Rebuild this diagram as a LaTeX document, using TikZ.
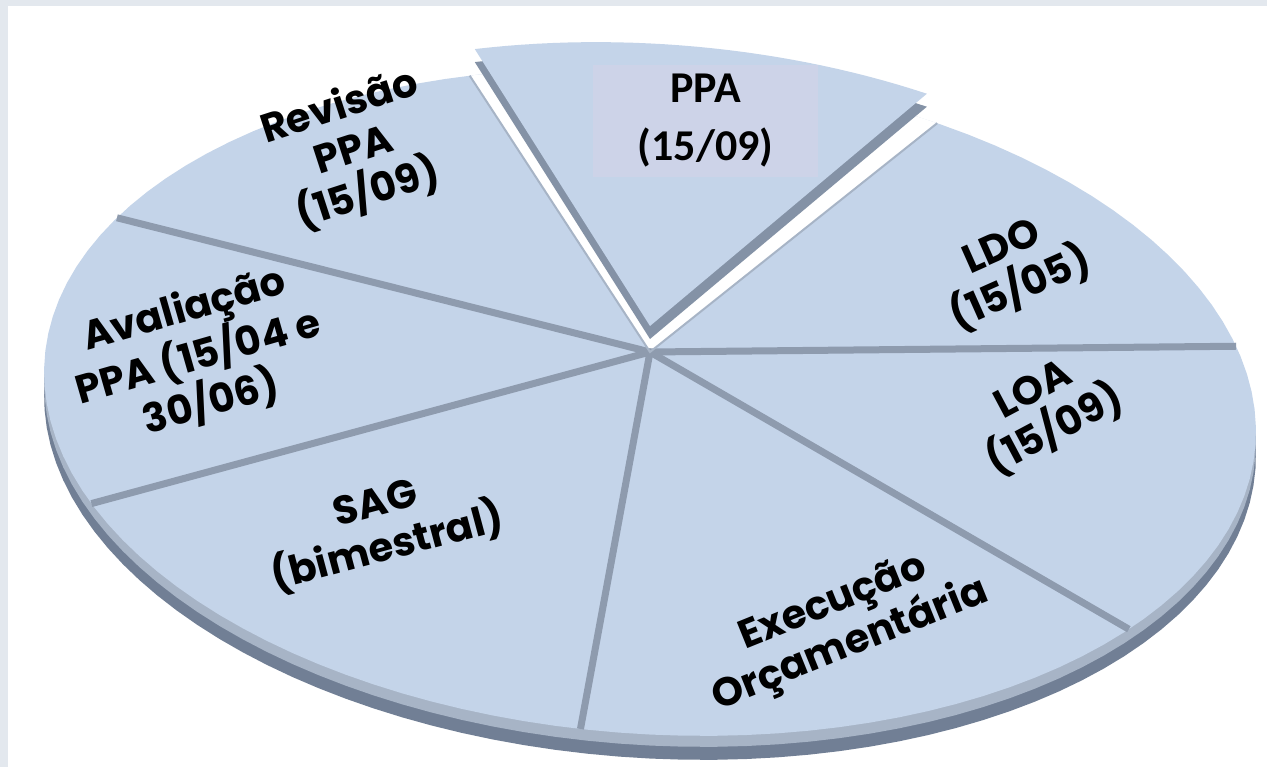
\documentclass[tikz,border=0pt]{standalone}
\usepackage{fontspec}
\setmainfont{Poppins}
\IfFontExistsTF{Carlito Bold}{\newfontfamily\boxfont{Carlito Bold}}{\newfontfamily\boxfont{Carlito}[FakeBold=4]}
\usetikzlibrary{positioning,calc}
\definecolor{face}{HTML}{C4D4E9}
\definecolor{groove}{HTML}{8E9BAE}
\definecolor{rimlight}{HTML}{A7B4C6}
\definecolor{rimdark}{HTML}{717F95}
\definecolor{pwall}{HTML}{8492A6}
\definecolor{boxfill}{HTML}{CDD3E8}
\definecolor{frame}{HTML}{E3E8EE}

\begin{document}
\begin{tikzpicture}[x=1pt,y=-1pt,
  declare function={ex(\t)=650+607*cos(\t)*cos(4)-332*sin(\t)*sin(4);
                    ey(\t)=402+607*cos(\t)*sin(4)+332*sin(\t)*cos(4);},
  lbl/.style={font=\bfseries\fontsize{40}{46}\selectfont,align=center,text=black,inner sep=0pt},
  groove/.style={draw=groove,line width=7pt}]
  \useasboundingbox (0,0) rectangle (1267,767);
  \fill[white] (0,0) rectangle (1267,767);
  \fill[frame] (0,0) rectangle (1267,6);
  \fill[frame] (0,0) rectangle (8,767);

  \coordinate (apex) at (650,352);
  \coordinate (tip) at (650,326);
  \foreach \n/\t in {b1/206.2,b2/250.5,b3/296.1,b4/343.1,b5/395.6,b6/454.4,b7/515}
    \coordinate (\n) at ({ex(\t)},{ey(\t)});

  \foreach \s/\c in {24/rimdark,11/rimlight,0/face}
    \fill[\c] plot[domain=0:360,samples=120] ({ex(\x)},{ey(\x)+\s}) -- cycle;
  \fill[white] (apex) -- plot[domain=250.5:296.1,samples=30] ({ex(\x)},{ey(\x)}) -- cycle;
  \foreach \n in {b1,b4,b5,b6,b7}
    \draw[groove] (apex) -- (\n);
  \draw[rimlight,line width=2pt] (b2) -- (apex) -- (b3);

  \fill[pwall] (650,339) -- plot[domain=251:295,samples=30] ({ex(\x)},{ey(\x)-13}) -- cycle;
  \fill[face] (tip) -- plot[domain=251:295,samples=30] ({ex(\x)},{ey(\x)-26}) -- cycle;

  \node[fill=boxfill,minimum width=225pt,minimum height=112pt,inner sep=0pt,align=center,
        font=\boxfont\fontsize{44}{58}\selectfont] (ppa) at (705.5,121) {PPA\\(15/09)};

  \node[lbl,rotate=18] (rev) at (354,151) {Revisão\\PPA\\(15/09)};
  \node[lbl,rotate=16] (aval) at (198,357) {Avaliação\\PPA (15/04 e\\30/06)};
  \node[lbl,rotate=15] (sag) at (382,528) {SAG\\(bimestral)};
  \node[lbl,rotate=22] (exec) at (842,625) {Execução\\Orçamentária};
  \node[lbl,rotate=28] (loa) at (1045,412) {LOA\\(15/09)};
  \node[lbl,rotate=24] (ldo) at (1012,270) {LDO\\(15/05)};
\end{tikzpicture}
\end{document}
